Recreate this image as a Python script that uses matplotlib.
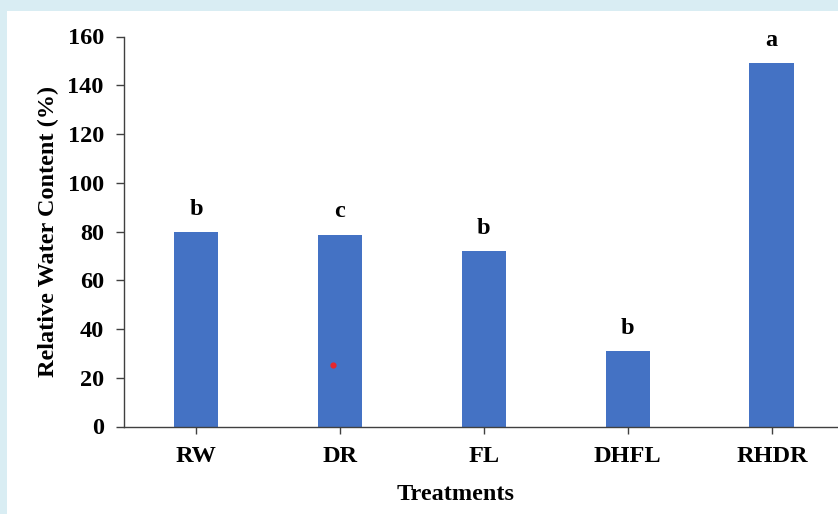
import matplotlib.pyplot as plt
from matplotlib.patches import Rectangle

treatments = ['RW', 'DR', 'FL', 'DHFL', 'RHDR']
rwc = [79.7, 78.7, 72.0, 31.0, 149.0]
letters = ['b', 'c', 'b', 'b', 'a']
yticks = [0, 20, 40, 60, 80, 100, 120, 140, 160]
dot_x = [0.95]
dot_y = [25.2]

plt.rcParams['font.family'] = ['Liberation Serif', 'DejaVu Serif']
plt.rcParams['font.weight'] = 'bold'
fs = 17.5

fig = plt.figure(figsize=(8.38, 5.14), dpi=100, facecolor='#d9edf3')
fig.patches.append(Rectangle((7 / 838, 0), 1, 1 - 11 / 514, transform=fig.transFigure,
                             facecolor='white', edgecolor='none', zorder=-10))
ax = fig.add_axes([124 / 838, 87.5 / 514, 714 / 838, 390 / 514])
ax.set_facecolor('none')

x = range(len(treatments))
ax.bar(x, rwc, width=0.31, color='#4472c4', zorder=2)
for i, (v, s) in enumerate(zip(rwc, letters)):
    ax.text(i, v + 5, s, ha='center', va='bottom', fontsize=fs, fontweight='bold')
ax.scatter(dot_x, dot_y, s=12, color='#e8262a', zorder=3)

ax.set_xlim(-0.5, 4.46)
ax.set_ylim(0, 160)
ax.set_yticks(yticks)
ax.set_xticks(list(x))
ax.set_xticklabels(treatments)
ax.tick_params(axis='both', labelsize=fs, color='#404040', width=1, direction='out')
ax.tick_params(axis='y', length=6, pad=8.5)
ax.tick_params(axis='x', length=5, pad=9)
for lab in ax.get_xticklabels() + ax.get_yticklabels():
    lab.set_fontweight('bold')

for side in ['top', 'right']:
    ax.spines[side].set_visible(False)
for side in ['left', 'bottom']:
    ax.spines[side].set_color('#404040')
    ax.spines[side].set_linewidth(1)

ax.set_ylabel('Relative Water Content (%)', fontsize=fs, fontweight='bold', labelpad=6)
ax.set_xlabel('Treatments', fontsize=fs, fontweight='bold')
ax.xaxis.set_label_coords(0.465, -0.148)

fig.savefig('out.png', dpi=100, facecolor=fig.get_facecolor())
